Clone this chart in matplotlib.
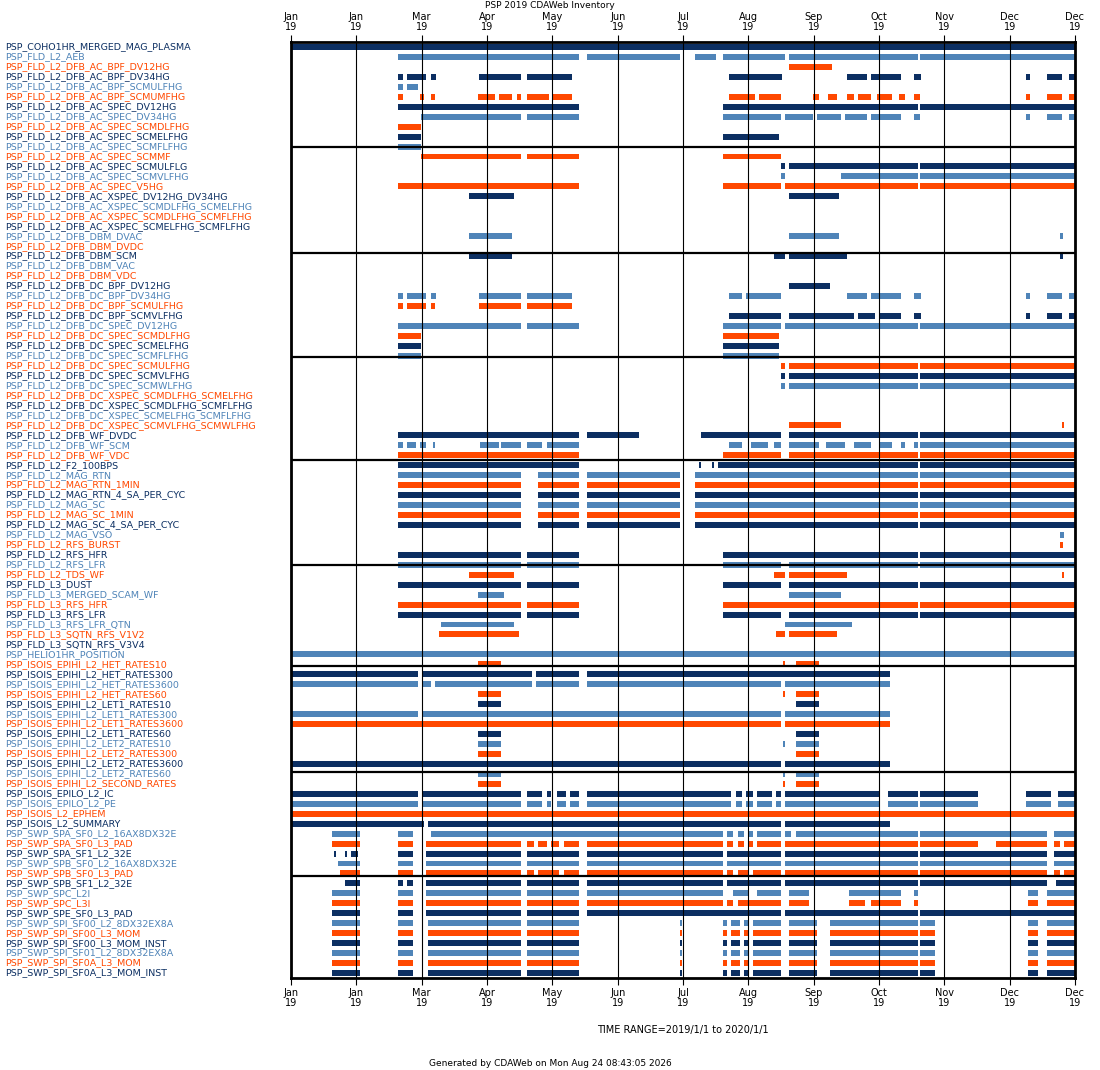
import matplotlib
matplotlib.use("Agg")
import matplotlib.pyplot as plt

# dataset names, top to bottom
labels = [
    "PSP_COHO1HR_MERGED_MAG_PLASMA", "PSP_FLD_L2_AEB", "PSP_FLD_L2_DFB_AC_BPF_DV12HG",
    "PSP_FLD_L2_DFB_AC_BPF_DV34HG", "PSP_FLD_L2_DFB_AC_BPF_SCMULFHG", "PSP_FLD_L2_DFB_AC_BPF_SCMUMFHG",
    "PSP_FLD_L2_DFB_AC_SPEC_DV12HG", "PSP_FLD_L2_DFB_AC_SPEC_DV34HG", "PSP_FLD_L2_DFB_AC_SPEC_SCMDLFHG",
    "PSP_FLD_L2_DFB_AC_SPEC_SCMELFHG", "PSP_FLD_L2_DFB_AC_SPEC_SCMFLFHG", "PSP_FLD_L2_DFB_AC_SPEC_SCMMF",
    "PSP_FLD_L2_DFB_AC_SPEC_SCMULFLG", "PSP_FLD_L2_DFB_AC_SPEC_SCMVLFHG", "PSP_FLD_L2_DFB_AC_SPEC_V5HG",
    "PSP_FLD_L2_DFB_AC_XSPEC_DV12HG_DV34HG", "PSP_FLD_L2_DFB_AC_XSPEC_SCMDLFHG_SCMELFHG",
    "PSP_FLD_L2_DFB_AC_XSPEC_SCMDLFHG_SCMFLFHG", "PSP_FLD_L2_DFB_AC_XSPEC_SCMELFHG_SCMFLFHG",
    "PSP_FLD_L2_DFB_DBM_DVAC", "PSP_FLD_L2_DFB_DBM_DVDC", "PSP_FLD_L2_DFB_DBM_SCM",
    "PSP_FLD_L2_DFB_DBM_VAC", "PSP_FLD_L2_DFB_DBM_VDC", "PSP_FLD_L2_DFB_DC_BPF_DV12HG",
    "PSP_FLD_L2_DFB_DC_BPF_DV34HG", "PSP_FLD_L2_DFB_DC_BPF_SCMULFHG", "PSP_FLD_L2_DFB_DC_BPF_SCMVLFHG",
    "PSP_FLD_L2_DFB_DC_SPEC_DV12HG", "PSP_FLD_L2_DFB_DC_SPEC_SCMDLFHG", "PSP_FLD_L2_DFB_DC_SPEC_SCMELFHG",
    "PSP_FLD_L2_DFB_DC_SPEC_SCMFLFHG", "PSP_FLD_L2_DFB_DC_SPEC_SCMULFHG", "PSP_FLD_L2_DFB_DC_SPEC_SCMVLFHG",
    "PSP_FLD_L2_DFB_DC_SPEC_SCMWLFHG", "PSP_FLD_L2_DFB_DC_XSPEC_SCMDLFHG_SCMELFHG",
    "PSP_FLD_L2_DFB_DC_XSPEC_SCMDLFHG_SCMFLFHG", "PSP_FLD_L2_DFB_DC_XSPEC_SCMELFHG_SCMFLFHG",
    "PSP_FLD_L2_DFB_DC_XSPEC_SCMVLFHG_SCMWLFHG", "PSP_FLD_L2_DFB_WF_DVDC", "PSP_FLD_L2_DFB_WF_SCM",
    "PSP_FLD_L2_DFB_WF_VDC", "PSP_FLD_L2_F2_100BPS", "PSP_FLD_L2_MAG_RTN", "PSP_FLD_L2_MAG_RTN_1MIN",
    "PSP_FLD_L2_MAG_RTN_4_SA_PER_CYC", "PSP_FLD_L2_MAG_SC", "PSP_FLD_L2_MAG_SC_1MIN",
    "PSP_FLD_L2_MAG_SC_4_SA_PER_CYC", "PSP_FLD_L2_MAG_VSO", "PSP_FLD_L2_RFS_BURST", "PSP_FLD_L2_RFS_HFR",
    "PSP_FLD_L2_RFS_LFR", "PSP_FLD_L2_TDS_WF", "PSP_FLD_L3_DUST", "PSP_FLD_L3_MERGED_SCAM_WF",
    "PSP_FLD_L3_RFS_HFR", "PSP_FLD_L3_RFS_LFR", "PSP_FLD_L3_RFS_LFR_QTN", "PSP_FLD_L3_SQTN_RFS_V1V2",
    "PSP_FLD_L3_SQTN_RFS_V3V4", "PSP_HELIO1HR_POSITION", "PSP_ISOIS_EPIHI_L2_HET_RATES10",
    "PSP_ISOIS_EPIHI_L2_HET_RATES300", "PSP_ISOIS_EPIHI_L2_HET_RATES3600", "PSP_ISOIS_EPIHI_L2_HET_RATES60",
    "PSP_ISOIS_EPIHI_L2_LET1_RATES10", "PSP_ISOIS_EPIHI_L2_LET1_RATES300", "PSP_ISOIS_EPIHI_L2_LET1_RATES3600",
    "PSP_ISOIS_EPIHI_L2_LET1_RATES60", "PSP_ISOIS_EPIHI_L2_LET2_RATES10", "PSP_ISOIS_EPIHI_L2_LET2_RATES300",
    "PSP_ISOIS_EPIHI_L2_LET2_RATES3600", "PSP_ISOIS_EPIHI_L2_LET2_RATES60", "PSP_ISOIS_EPIHI_L2_SECOND_RATES",
    "PSP_ISOIS_EPILO_L2_IC", "PSP_ISOIS_EPILO_L2_PE", "PSP_ISOIS_L2_EPHEM", "PSP_ISOIS_L2_SUMMARY",
    "PSP_SWP_SPA_SF0_L2_16AX8DX32E", "PSP_SWP_SPA_SF0_L3_PAD", "PSP_SWP_SPA_SF1_L2_32E",
    "PSP_SWP_SPB_SF0_L2_16AX8DX32E", "PSP_SWP_SPB_SF0_L3_PAD", "PSP_SWP_SPB_SF1_L2_32E",
    "PSP_SWP_SPC_L2I", "PSP_SWP_SPC_L3I", "PSP_SWP_SPE_SF0_L3_PAD", "PSP_SWP_SPI_SF00_L2_8DX32EX8A",
    "PSP_SWP_SPI_SF00_L3_MOM", "PSP_SWP_SPI_SF00_L3_MOM_INST", "PSP_SWP_SPI_SF01_L2_8DX32EX8A",
    "PSP_SWP_SPI_SF0A_L3_MOM", "PSP_SWP_SPI_SF0A_L3_MOM_INST",
]

# coverage intervals, day of year 2019 (start, end), one list per dataset
mag = [(50, 107), (115, 134), (138, 181), (188, 292), (293, 365)]
full_l3 = [(50, 107), (110, 134), (201, 228), (232, 292), (293, 365)]
epihi_short = [(87, 98), (229, 230), (235, 246)]
epihi_long = [(0, 228), (230, 279)]
epilo = [(0, 59), (61, 107), (110, 117), (119, 121), (124, 128), (130, 134), (138, 205), (207, 210),
         (212, 215), (217, 224), (226, 228), (230, 274), (278, 292), (293, 320), (342, 354), (357, 365)]
spi = [(19, 32), (50, 57), (64, 107), (110, 134), (181, 182), (201, 203), (205, 209), (211, 213),
       (215, 228), (232, 245), (251, 292), (293, 300), (343, 348), (352, 365)]
scm_late = [(228, 230), (232, 292), (293, 365)]
bpf34 = [(50, 52), (54, 63), (65, 67.5), (87.5, 107), (110, 131), (204, 228.5), (259, 268), (270, 284),
         (290, 293.5), (342, 344), (352, 359), (362, 365)]

intervals = [
    [(0, 365)],
    [(50, 134), (138, 181), (188, 198), (201, 230), (232, 292), (293, 365)],
    [(232, 252)],
    bpf34,
    [(50, 52), (54, 59)],
    [(50, 52), (60, 62), (65, 67), (87, 95), (97, 103), (105, 107), (110, 120), (122, 131), (204, 216),
     (218, 228), (243, 246), (250, 254), (259, 262), (264, 270), (273, 280), (283, 286), (290, 293),
     (342, 344), (352, 359), (362, 365)],
    [(50, 134), (201, 292), (293, 365)],
    [(60.5, 107), (110, 134), (201, 228), (230, 243), (245, 256), (258, 268), (270, 284), (290, 293),
     (342, 344), (352, 359), (362, 365)],
    [(50, 60.5)],
    [(50, 60.5), (201, 227)],
    [(50, 60.5)],
    [(60.5, 107), (110, 134), (201, 228)],
    scm_late,
    [(228, 230), (256, 292), (293, 365)],
    [(50, 134), (201, 228), (230, 292), (293, 365)],
    [(83, 104), (232, 255)],
    [], [], [],
    [(83, 103), (232, 255), (358, 359.5)],
    [],
    [(83, 103), (225, 230), (232, 259), (358, 359.5)],
    [], [],
    [(232, 251)],
    [(50, 52), (54, 63), (65, 67.5), (87.5, 107), (110, 131), (204, 210), (212, 228), (259, 268),
     (270, 284), (290, 293.5), (342, 344), (352, 359), (362, 365)],
    [(50, 52), (54, 63), (65, 67), (87.5, 107), (110, 131)],
    [(204, 228), (232, 262), (264, 272), (274, 284), (290, 293.5), (342, 344), (352, 359), (362, 365)],
    [(50, 107), (110, 134), (201, 228), (230, 292), (293, 365)],
    [(50, 60.5), (201, 227)],
    [(50, 60.5), (201, 227)],
    [(50, 60.5), (201, 227)],
    scm_late, scm_late, scm_late,
    [], [], [],
    [(232, 256), (359, 360)],
    [(50, 134), (138, 162), (191, 228), (232, 292), (293, 365)],
    [(50, 52), (54, 58), (60, 63), (66, 67), (88, 97), (98, 107), (110, 117), (119, 134), (204, 210),
     (214, 222), (225, 228), (232, 246), (249, 258), (262, 270), (274, 280), (284, 286), (290, 292),
     (293, 365)],
    [(50, 134), (201, 228), (232, 292), (293, 365)],
    [(50, 134), (190, 191), (196, 197), (199, 292), (293, 365)],
    mag, mag, mag, mag, mag, mag,
    [(358, 360)],
    [(358, 359.5)],
    [(50, 107), (110, 134), (201, 292), (293, 365)],
    full_l3,
    [(83, 104), (225, 230), (232, 259), (359, 360)],
    full_l3,
    [(87, 99), (232, 256)],
    [(50, 107), (110, 134), (201, 292), (293, 365)],
    full_l3,
    [(70, 104), (230, 261)],
    [(69, 106), (226, 230), (232, 254)],
    [],
    [(0, 365)],
    epihi_short,
    [(0, 59), (61, 112), (114, 134), (138, 279)],
    [(0, 59), (61, 65), (67, 112), (114, 134), (138, 228), (230, 279)],
    epihi_short,
    [(87, 98), (235, 246)],
    [(0, 59), (61, 228), (230, 279)],
    epihi_long,
    [(87, 98), (235, 246)],
    epihi_short,
    [(87, 98), (235, 246)],
    epihi_long,
    epihi_short,
    epihi_short,
    epilo, epilo,
    [(0, 365)],
    [(0, 62), (64, 228), (230, 279)],
    [(19, 32), (50, 57), (65, 201), (203, 206), (208, 211), (213, 215), (217, 228), (230, 233),
     (235, 292), (293, 352), (355, 365)],
    [(19, 32), (50, 57), (63, 107), (110, 113), (115, 119), (121, 125), (127, 134), (138, 201),
     (203, 206), (208, 211), (213, 215), (217, 228), (230, 292), (293, 320), (328, 352), (355, 358),
     (360, 365)],
    [(20, 21), (25, 26), (28, 31), (50, 57), (63, 107), (110, 134), (138, 201), (203, 228), (230, 292),
     (293, 352), (355, 365)],
    [(22, 32), (50, 57), (63, 107), (110, 134), (138, 201), (203, 228), (230, 292), (293, 352), (355, 365)],
    [(23, 32), (50, 57), (63, 107), (110, 113), (115, 125), (127, 134), (138, 201), (203, 206),
     (208, 213), (215, 228), (230, 292), (293, 352), (355, 358), (360, 365)],
    [(25, 32), (50, 52), (54, 57), (63, 107), (110, 134), (138, 201), (203, 228), (230, 292),
     (293, 352), (356, 365)],
    [(19, 32), (50, 57), (63, 107), (110, 134), (138, 201), (206, 213), (217, 228), (232, 241),
     (260, 284), (290, 292), (343, 348), (352, 365)],
    [(19, 32), (50, 57), (63, 107), (110, 134), (138, 201), (203, 206), (208, 228), (232, 241),
     (260, 267), (270, 284), (290, 292), (343, 348), (352, 365)],
    [(19, 32), (50, 57), (63, 107), (110, 134), (138, 228), (230, 292), (293, 365)],
    spi, spi, spi, spi, spi, spi,
]

tick_labels = ["Jan\n19", "Jan\n19", "Mar\n19", "Apr\n19", "May\n19", "Jun\n19", "Jul\n19",
               "Aug\n19", "Sep\n19", "Oct\n19", "Nov\n19", "Dec\n19", "Dec\n19"]
separators = [10.04, 20.7, 31.1, 41.5, 52.0, 62.2, 72.8, 83.3]

colors = ["#0c2f62", "#4f84b8", "#ff4800"]

fig = plt.figure(figsize=(11, 10.7), dpi=100)
ax = fig.add_axes([291 / 1100, 1 - 978 / 1070, 784 / 1100, 936 / 1070])

n = len(labels)
for i, (name, iv) in enumerate(zip(labels, intervals)):
    c = colors[i % 3]
    if iv:
        ax.broken_barh([(a, b - a) for a, b in iv], (i - 0.3, 0.6), facecolors=c)
    ax.text(-0.365, i, name, transform=ax.get_yaxis_transform(), color=c,
            fontsize=6.8, va="center", ha="left")

for s in separators:
    ax.axhline(s, color="black", lw=1.6)

ticks = [365 * k / 12 for k in range(13)]
for t in ticks:
    ax.axvline(t, color="black", lw=0.8)

ax.set_xlim(0, 365)
ax.set_ylim(n - 0.5, -0.5)
ax.set_yticks([])
ax.set_xticks(ticks)
ax.set_xticklabels(tick_labels, fontsize=7, linespacing=1.0)
ax.tick_params(axis="x", top=True, labeltop=True, direction="out", length=5, pad=2)
for sp in ax.spines.values():
    sp.set_linewidth(2)

fig.text(0.5, 1 - 1 / 1070, "PSP 2019 CDAWeb Inventory", ha="center", va="top", fontsize=6.5)
fig.text(683 / 1100, 1 - 1030 / 1070, "TIME RANGE=2019/1/1 to 2020/1/1", ha="center", va="center", fontsize=7)
fig.text(0.5, 1 - 1063 / 1070, "Generated by CDAWeb on Mon Aug 24 08:43:05 2026", ha="center",
         va="center", fontsize=6.5)

fig.savefig("out.png", dpi=100)
